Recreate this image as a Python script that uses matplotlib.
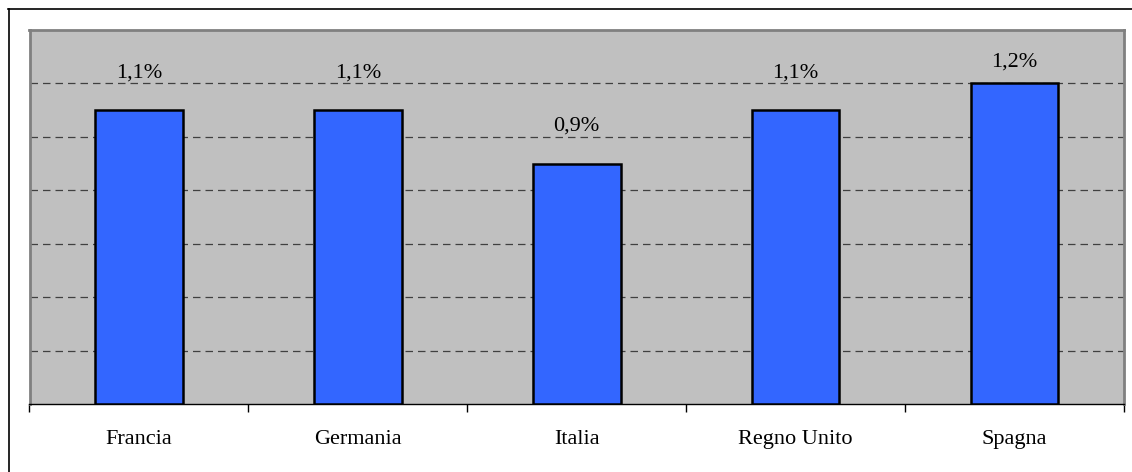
import matplotlib
matplotlib.use("Agg")
import matplotlib.pyplot as plt
from matplotlib.lines import Line2D

categories = ["Francia", "Germania", "Italia", "Regno Unito", "Spagna"]
values = [1.1, 1.1, 0.9, 1.1, 1.2]
labels = ["1,1%", "1,1%", "0,9%", "1,1%", "1,2%"]

plt.rcParams['font.family'] = ['Liberation Serif', 'DejaVu Serif']

W, H = 1132, 472
fig = plt.figure(figsize=(W / 100, H / 100), dpi=100)
fig.patch.set_facecolor('white')

x0, x1, y0, y1 = 29.5, 1124, 30, 404
ax = fig.add_axes([x0 / W, (H - y1) / H, (x1 - x0) / W, (y1 - y0) / H])
ax.set_facecolor('#c0c0c0')

xs = list(range(len(categories)))
ax.bar(xs, values, width=0.40, color='#3366ff', edgecolor='black', linewidth=1.8, zorder=3)

ax.set_xlim(-0.5, len(categories) - 0.5)
ax.set_ylim(0, 1.4)
ax.set_yticks([0.2, 0.4, 0.6, 0.8, 1.0, 1.2])
ax.yaxis.grid(True, linestyle=(0, (6, 4)), color='#404040', linewidth=0.9, zorder=1)
ax.tick_params(axis='y', left=False, labelleft=False)

ax.set_xticks([i - 0.5 for i in range(len(categories) + 1)], minor=False)
ax.set_xticklabels([])
ax.set_xticks(xs, minor=True)
ax.set_xticklabels(categories, minor=True, fontsize=16)
ax.tick_params(axis='x', which='major', direction='out', length=6, width=1, color='black')
ax.tick_params(axis='x', which='minor', length=0, pad=19)

for side in ['left', 'top', 'right']:
    ax.spines[side].set_color('#808080')
    ax.spines[side].set_linewidth(2)
ax.spines['bottom'].set_color('black')
ax.spines['bottom'].set_linewidth(1)

for xi, v, lab in zip(xs, values, labels):
    ax.text(xi, min(v + 0.14, 1.28), lab, ha='center', va='center', fontsize=16, zorder=4)

fig.add_artist(Line2D([8.5 / W, 8.5 / W], [0, (H - 9) / H], color='black', linewidth=1.2, transform=fig.transFigure))
fig.add_artist(Line2D([8 / W, 1.0], [(H - 9) / H, (H - 9) / H], color='black', linewidth=1.2, transform=fig.transFigure))

fig.savefig("out.png", dpi=100)
